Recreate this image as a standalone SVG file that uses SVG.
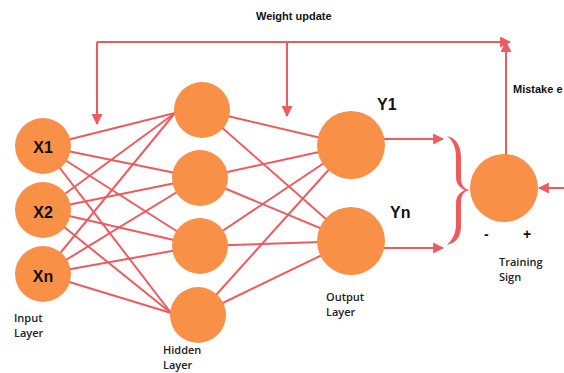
<svg xmlns="http://www.w3.org/2000/svg" width="564" height="373" viewBox="0 0 564 373">
<style>
.bg{fill:#ffffff}
.node{fill:#F89048}
.edge{stroke:#EF5A5F;stroke-width:2;fill:none}
.arr{stroke:#EF5A5F;stroke-width:2;fill:none;marker-end:url(#ah)}
.brace{fill:#EF5A5F}
.big{font-family:"Liberation Sans",Arial,sans-serif;font-weight:bold;font-size:16px;fill:#111}
.lbl{font-family:"Open Sans","Liberation Sans",sans-serif;font-weight:600;font-size:11px;fill:#222}
.ttl{font-family:"Liberation Sans",Arial,sans-serif;font-weight:bold;font-size:11px;fill:#111}
.sgn{font-family:"Liberation Sans",Arial,sans-serif;font-weight:bold;font-size:14px;fill:#111}
</style>
<defs>
<marker id="ah" viewBox="0 0 10 10" refX="9" refY="5" markerWidth="5.5" markerHeight="5.5" markerUnits="strokeWidth" orient="auto">
<path d="M0,0 L10,5 L0,10 Z" fill="#EF5A5F"/>
</marker>
</defs>
<rect class="bg" x="0" y="0" width="564" height="373"/>
<g id="connectors">
<line class="edge" x1="43" y1="146" x2="175" y2="113"/>
<line class="edge" x1="43" y1="146" x2="200" y2="178"/>
<line class="edge" x1="43" y1="146" x2="200" y2="246"/>
<line class="edge" x1="43" y1="146" x2="171" y2="313"/>
<line class="edge" x1="43" y1="210" x2="175" y2="113"/>
<line class="edge" x1="43" y1="210" x2="200" y2="178"/>
<line class="edge" x1="43" y1="210" x2="200" y2="246"/>
<line class="edge" x1="43" y1="210" x2="171" y2="313"/>
<line class="edge" x1="43" y1="274" x2="175" y2="113"/>
<line class="edge" x1="43" y1="274" x2="200" y2="178"/>
<line class="edge" x1="43" y1="274" x2="200" y2="246"/>
<line class="edge" x1="43" y1="274" x2="171" y2="313"/>
<line class="edge" x1="202" y1="110" x2="351" y2="145"/>
<line class="edge" x1="202" y1="110" x2="351" y2="241"/>
<line class="edge" x1="200" y1="178" x2="351" y2="145"/>
<line class="edge" x1="200" y1="178" x2="351" y2="241"/>
<line class="edge" x1="200" y1="246" x2="351" y2="145"/>
<line class="edge" x1="200" y1="246" x2="351" y2="241"/>
<line class="edge" x1="198" y1="315" x2="351" y2="145"/>
<line class="edge" x1="198" y1="315" x2="351" y2="241"/>
<line class="arr" x1="384" y1="139" x2="443" y2="139"/>
<line class="arr" x1="384" y1="248" x2="443" y2="248"/>
<line class="arr" x1="97" y1="42" x2="510" y2="42"/>
<line class="arr" x1="506" y1="155" x2="506" y2="42"/>
<line class="arr" x1="97" y1="42" x2="97" y2="124"/>
<line class="arr" x1="287" y1="42" x2="287" y2="116"/>
<line class="arr" x1="564" y1="188" x2="539" y2="188"/>
<path class="brace" d="M447,136 C456,138 461,145 461,158 L461,178 C461,185 464,189 470,190 C464,191 461,195 461,202 L461,226 C461,237 456,243 447,245 C452,240 456,234 456,224 L456,203 C456,196 460,192 465,190 C460,188 456,184 456,177 L456,158 C456,147 453,141 447,136 Z"/>
</g>
<g id="x1"><circle class="node" cx="43" cy="146" r="28"/><text class="big" x="43" y="153" text-anchor="middle">X1</text></g>
<g id="x2"><circle class="node" cx="43" cy="210" r="28"/><text class="big" x="43" y="218" text-anchor="middle">X2</text></g>
<g id="xn"><circle class="node" cx="43" cy="274" r="28"/><text class="big" x="43" y="282" text-anchor="middle">Xn</text></g>
<g id="h1"><circle class="node" cx="202" cy="110" r="28"/></g>
<g id="h2"><circle class="node" cx="200" cy="178" r="28"/></g>
<g id="h3"><circle class="node" cx="200" cy="246" r="28"/></g>
<g id="h4"><circle class="node" cx="198" cy="315" r="28"/></g>
<g id="y1"><circle class="node" cx="351" cy="145" r="34"/><text class="big" x="377" y="110">Y1</text></g>
<g id="yn"><circle class="node" cx="351" cy="241" r="34"/><text class="big" x="390" y="218">Yn</text></g>
<g id="training"><circle class="node" cx="504" cy="188" r="34"/>
<text class="sgn" x="484" y="239">-</text><text class="sgn" x="523" y="239">+</text>
<text class="lbl" x="499" y="266">Training</text><text class="lbl" x="499" y="281">Sign</text></g>
<g id="labels">
<text class="ttl" x="256" y="20">Weight update</text>
<text class="ttl" x="513" y="93">Mistake e</text>
<text class="lbl" x="14" y="322">Input</text><text class="lbl" x="14" y="337">Layer</text>
<text class="lbl" x="163" y="354">Hidden</text><text class="lbl" x="163" y="369">Layer</text>
<text class="lbl" x="326" y="301">Output</text><text class="lbl" x="326" y="316">Layer</text>
</g>
</svg>
